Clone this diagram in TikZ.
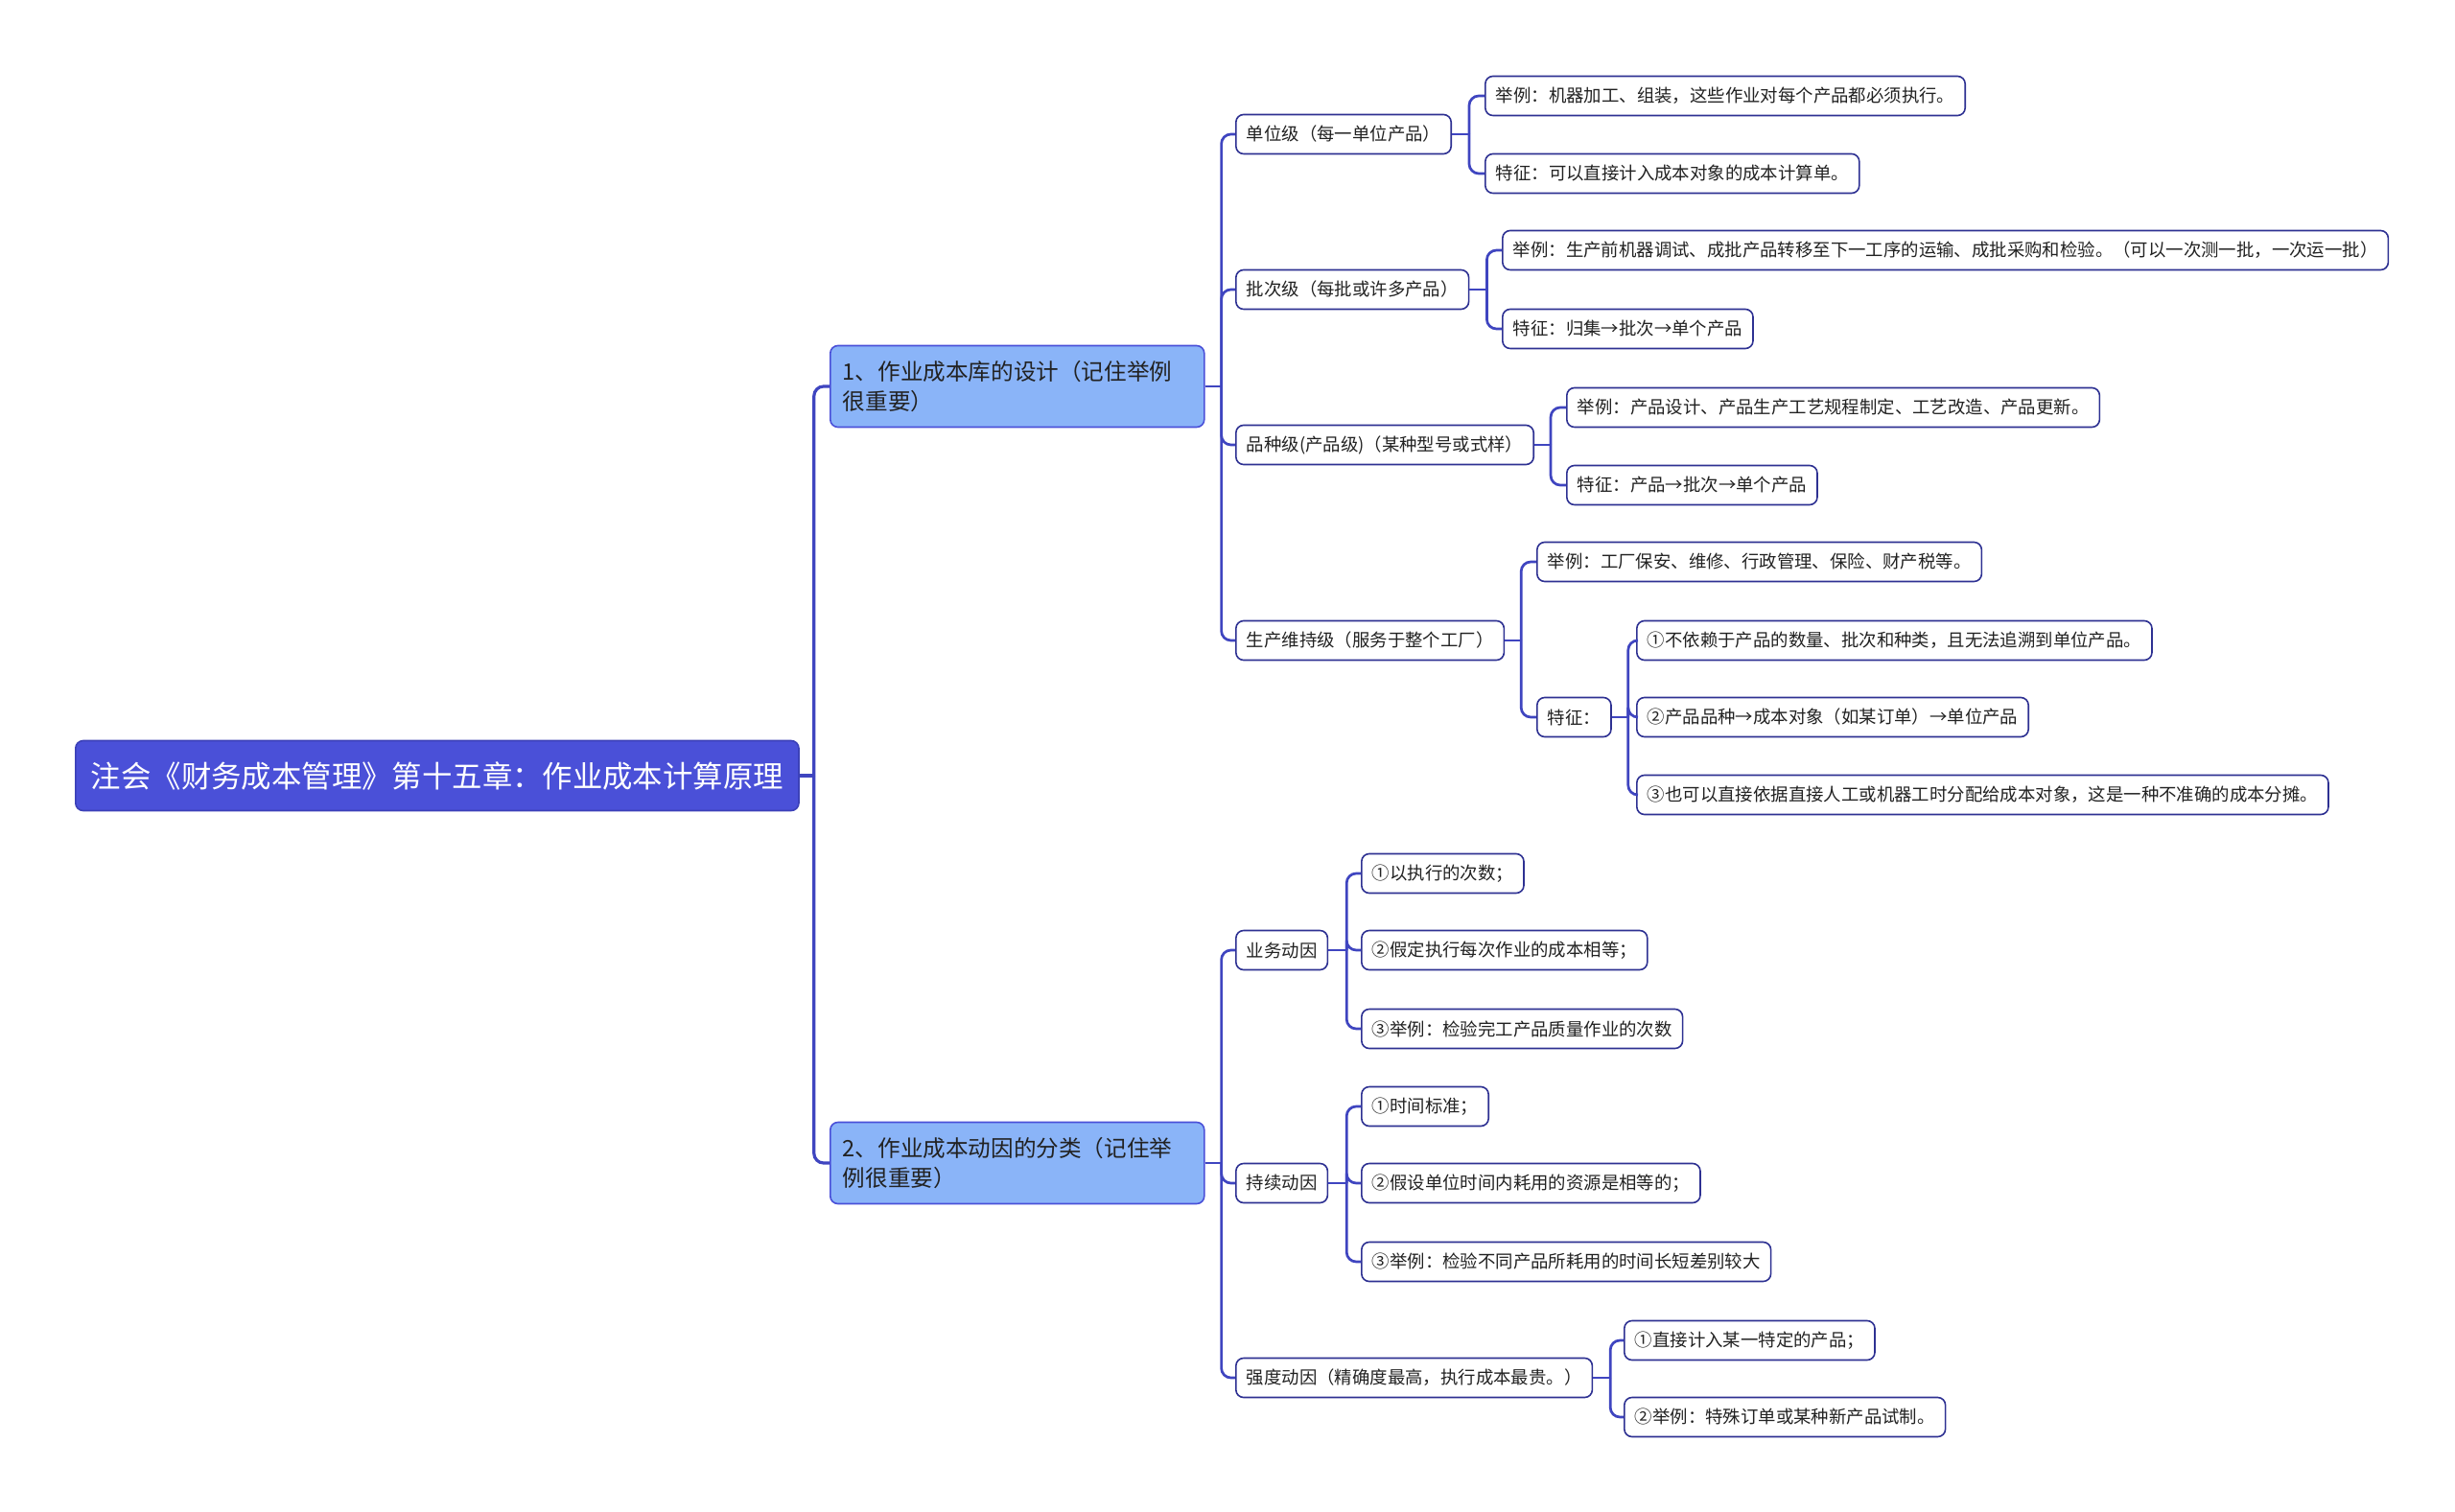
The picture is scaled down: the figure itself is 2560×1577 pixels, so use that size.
\documentclass[tikz,border=0pt]{standalone}
\usepackage{fontspec}
\setmainfont{Noto Sans CJK SC}
\definecolor{rootfill}{HTML}{4A50D8}
\definecolor{rootdraw}{HTML}{3C41B8}
\definecolor{lvfill}{HTML}{8AB4F8}
\definecolor{leafdraw}{HTML}{2E3192}
\definecolor{linec}{HTML}{3F45C0}
\definecolor{txt}{HTML}{222222}
\tikzset{
  rootbox/.style={draw=rootdraw, fill=rootfill, text=white, rounded corners=4pt, line width=0.8pt,
    font=\fontsize{15.7pt}{19pt}\selectfont, minimum height=36.5pt, inner xsep=8pt, inner ysep=2pt, anchor=west},
  lvbox/.style={draw=rootfill, fill=lvfill, text=txt, rounded corners=4pt, line width=0.8pt,
    font=\fontsize{11.8pt}{15.5pt}\selectfont, text width=182pt, align=left, minimum height=42.5pt,
    inner xsep=6.5pt, inner ysep=2pt, anchor=west},
  leaf/.style={draw=leafdraw, fill=white, text=txt, rounded corners=4pt, line width=0.8pt,
    font=\fontsize{9.2pt}{11pt}\selectfont, minimum height=20.5pt, inner xsep=5.5pt, inner ysep=1pt, anchor=west},
  conn/.style={draw=linec, line width=1.35pt},
  rootconn/.style={draw=linec, line width=1.6pt},
}
\newcommand\linkto[4][conn]{%
  \draw[#1] (#2.east) -- ++(#4,0) coordinate (lkt);
  \draw[#1, rounded corners=5pt] (lkt) |- (#3.west);
}
\begin{document}
\begin{tikzpicture}[x=0.5pt,y=-0.5pt]
\useasboundingbox (0,0) rectangle (2560,1577);
\fill[white] (0,0) rectangle (2560,1577);

\node[rootbox] (root) at (78,809) {注会《财务成本管理》第十五章：作业成本计算原理};

\node[lvbox] (n1) at (865,403) {1、作业成本库的设计（记住举例\\很重要）};
\node[lvbox] (n2) at (865,1213) {2、作业成本动因的分类（记住举\\例很重要）};

% level 2 under n1
\node[leaf] (a) at (1288,140) {单位级（每一单位产品）};
\node[leaf] (b) at (1288,302) {批次级（每批或许多产品）};
\node[leaf] (c) at (1288,464) {品种级(产品级)（某种型号或式样）};
\node[leaf] (d) at (1288,668) {生产维持级（服务于整个工厂）};

\node[leaf] (a1) at (1548,100) {举例：机器加工、组装，这些作业对每个产品都必须执行。};
\node[leaf] (a2) at (1548,181) {特征：可以直接计入成本对象的成本计算单。};

\node[leaf] (b1) at (1566,261) {举例：生产前机器调试、成批产品转移至下一工序的运输、成批采购和检验。（可以一次测一批，一次运一批）};
\node[leaf] (b2) at (1566,343) {特征：归集→批次→单个产品};

\node[leaf] (c1) at (1633,425) {举例：产品设计、产品生产工艺规程制定、工艺改造、产品更新。};
\node[leaf] (c2) at (1633,506) {特征：产品→批次→单个产品};

\node[leaf] (d1) at (1602,586) {举例：工厂保安、维修、行政管理、保险、财产税等。};
\node[leaf] (d2) at (1602,748) {特征：};

\node[leaf] (d21) at (1706,668) {①不依赖于产品的数量、批次和种类，且无法追溯到单位产品。};
\node[leaf] (d22) at (1706,748) {②产品品种→成本对象（如某订单）→单位产品};
\node[leaf] (d23) at (1706,829) {③也可以直接依据直接人工或机器工时分配给成本对象，这是一种不准确的成本分摊。};

% level 2 under n2
\node[leaf] (e) at (1288,991) {业务动因};
\node[leaf] (f) at (1288,1234) {持续动因};
\node[leaf] (g) at (1288,1437) {强度动因（精确度最高，执行成本最贵。）};

\node[leaf] (e1) at (1419,911) {①以执行的次数；};
\node[leaf] (e2) at (1419,991) {②假定执行每次作业的成本相等；};
\node[leaf] (e3) at (1419,1073) {③举例：检验完工产品质量作业的次数};

\node[leaf] (f1) at (1419,1154) {①时间标准；};
\node[leaf] (f2) at (1419,1234) {②假设单位时间内耗用的资源是相等的；};
\node[leaf] (f3) at (1419,1316) {③举例：检验不同产品所耗用的时间长短差别较大};

\node[leaf] (g1) at (1693,1398) {①直接计入某一特定的产品；};
\node[leaf] (g2) at (1693,1478) {②举例：特殊订单或某种新产品试制。};

% connectors
\linkto[rootconn]{root}{n1}{15}
\linkto[rootconn]{root}{n2}{15}

\linkto{n1}{a}{17}
\linkto{n1}{b}{17}
\linkto{n1}{c}{17}
\linkto{n1}{d}{17}

\linkto{a}{a1}{18}
\linkto{a}{a2}{18}
\linkto{b}{b1}{18}
\linkto{b}{b2}{18}
\linkto{c}{c1}{17}
\linkto{c}{c2}{17}
\linkto{d}{d1}{17}
\linkto{d}{d2}{17}
\linkto{d2}{d21}{17}
\linkto{d2}{d22}{17}
\linkto{d2}{d23}{17}

\linkto{n2}{e}{17}
\linkto{n2}{f}{17}
\linkto{n2}{g}{17}

\linkto{e}{e1}{19}
\linkto{e}{e2}{19}
\linkto{e}{e3}{19}
\linkto{f}{f1}{19}
\linkto{f}{f2}{19}
\linkto{f}{f3}{19}
\linkto{g}{g1}{18}
\linkto{g}{g2}{18}
\end{tikzpicture}
\end{document}
